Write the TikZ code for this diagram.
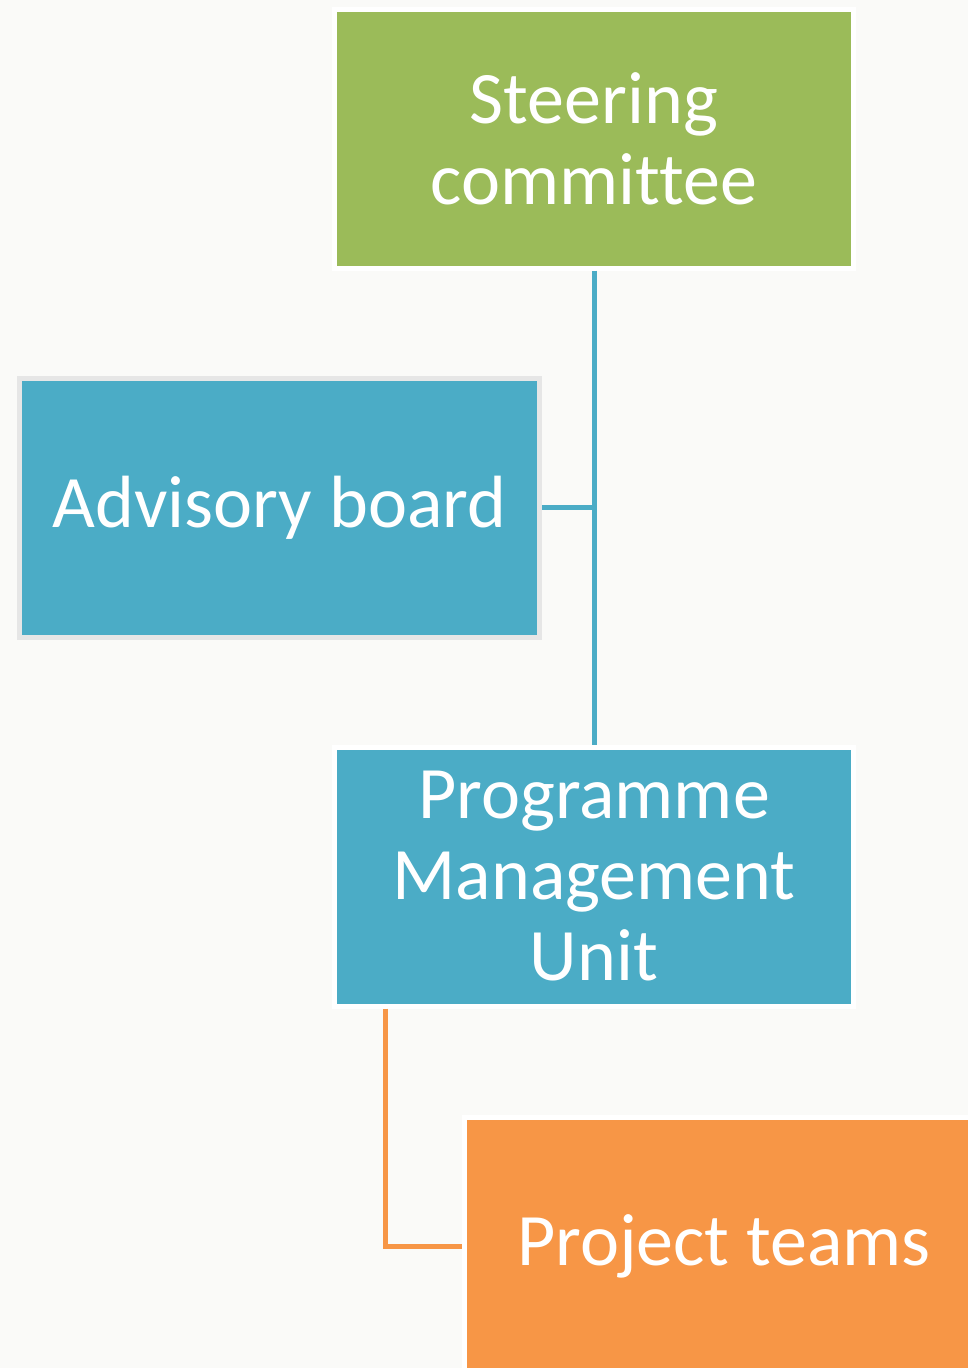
\documentclass[tikz,border=0pt]{standalone}
\usepackage{fontspec}
\setmainfont{Carlito}[Ligatures={NoCommon}]
\definecolor{bg}{HTML}{FAFAF8}
\definecolor{cgreen}{HTML}{9BBB59}
\definecolor{cblue}{HTML}{4BACC6}
\definecolor{corange}{HTML}{F79646}
\definecolor{cgray}{HTML}{E6E6E6}
\begin{document}
\begin{tikzpicture}[x=1pt,y=-1pt,
  box/.style={rectangle, draw=white, line width=5pt, minimum width=519pt, minimum height=259pt,
    inner sep=0pt, text=white, align=center,
    font=\fontsize{74}{81}\selectfont},
  link/.style={line width=5pt}]
\useasboundingbox (0,0) rectangle (968,1368);
\fill[bg] (0,0) rectangle (968,1368);
\begin{scope}
\clip (0,0) rectangle (968,1368);
\node[box, fill=cgreen] (steer) at (594,138.5) {Steering\\committee};
\node[box, fill=cblue, draw=cgray, minimum width=520pt] (adv) at (279.5,507.5) {Advisory board};
\node[box, fill=cblue] (pmu) at (594,876.5) {Programme\\Management\\Unit};
\node[box, fill=corange] (proj) at (724,1246.5) {\raisebox{-8pt}{Project teams}};
\draw[link, cblue] (steer.south) -- (pmu.north);
\draw[link, cblue] (adv.east) -- (adv.east -| steer.south);
\draw[link, corange] (pmu.south) ++(-208.5,0) |- (proj.west);
\end{scope}
\end{tikzpicture}
\end{document}
